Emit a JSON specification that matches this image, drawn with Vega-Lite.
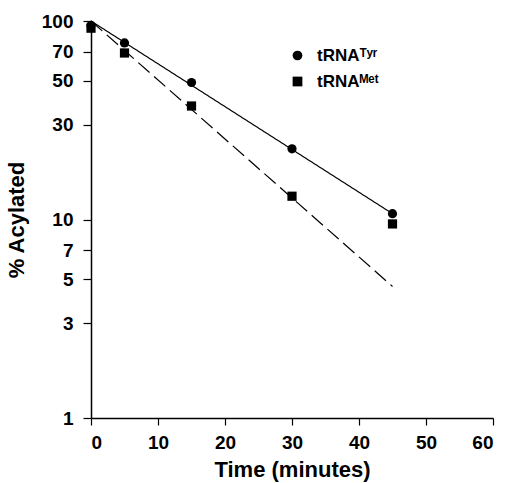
{
  "$schema": "https://vega.github.io/schema/vega-lite/v6.json",
  "width": 402,
  "height": 397,
  "autosize": "none",
  "padding": {"left": 91, "top": 21, "right": 14, "bottom": 65},
  "background": "white",
  "config": {
    "view": {"stroke": null},
    "font": "Liberation Sans",
    "axis": {
      "grid": false,
      "domainColor": "black",
      "domainWidth": 1.5,
      "tickColor": "black",
      "tickWidth": 1.2,
      "labelColor": "black",
      "labelFont": "Liberation Sans",
      "labelFontWeight": "bold",
      "labelFontSize": 19,
      "titleFont": "Liberation Sans",
      "titleFontWeight": "bold",
      "titleFontSize": 22,
      "titleColor": "black"
    }
  },
  "datasets": {
    "points": [
      {"t": 0, "pct": 95, "series": "tRNAᵀʸʳ"},
      {"t": 5, "pct": 77.5, "series": "tRNAᵀʸʳ"},
      {"t": 15, "pct": 49, "series": "tRNAᵀʸʳ"},
      {"t": 30, "pct": 22.7, "series": "tRNAᵀʸʳ"},
      {"t": 45, "pct": 10.7, "series": "tRNAᵀʸʳ"},
      {"t": 0, "pct": 92, "series": "tRNAᴹᵉᵗ"},
      {"t": 5, "pct": 69, "series": "tRNAᴹᵉᵗ"},
      {"t": 15, "pct": 37.3, "series": "tRNAᴹᵉᵗ"},
      {"t": 30, "pct": 13.1, "series": "tRNAᴹᵉᵗ"},
      {"t": 45, "pct": 9.5, "series": "tRNAᴹᵉᵗ"}
    ],
    "fits": [
      {"t": 0, "pct": 100, "fit": "Tyr fit"},
      {"t": 45, "pct": 10.7, "fit": "Tyr fit"},
      {"t": 0, "pct": 100, "fit": "Met fit"},
      {"t": 45, "pct": 4.6, "fit": "Met fit"}
    ]
  },
  "layer": [
    {
      "data": {"name": "fits"},
      "mark": {"type": "line", "color": "black", "strokeWidth": 1.2},
      "encoding": {
        "x": {"field": "t", "type": "quantitative"},
        "y": {"field": "pct", "type": "quantitative"},
        "detail": {"field": "fit"},
        "strokeDash": {
          "field": "fit",
          "type": "nominal",
          "scale": {"domain": ["Tyr fit", "Met fit"], "range": [[1, 0], [15, 6]]},
          "legend": null
        }
      }
    },
    {
      "data": {"name": "points"},
      "mark": {"type": "point", "filled": true, "color": "black", "opacity": 1},
      "encoding": {
        "x": {
          "field": "t",
          "type": "quantitative",
          "scale": {"domain": [0, 60], "nice": false},
          "axis": {
            "title": "Time (minutes)",
            "values": [0, 5, 10, 15, 20, 25, 30, 35, 40, 45, 50, 55, 60],
            "labelExpr": "datum.value % 10 === 0 ? datum.label : ''",
            "tickSize": {"condition": {"test": "datum.value % 10 === 0", "value": 7}, "value": 4},
            "labelPadding": 8,
            "titlePadding": 7
          }
        },
        "y": {
          "field": "pct",
          "type": "quantitative",
          "scale": {"type": "log", "domain": [1, 100], "nice": false},
          "axis": {
            "title": "% Acylated",
            "values": [1, 3, 5, 7, 10, 30, 50, 70, 100],
            "format": "d",
            "tickSize": 8,
            "labelPadding": 10,
            "titlePadding": 13
          }
        },
        "shape": {
          "field": "series",
          "type": "nominal",
          "scale": {"domain": ["tRNAᵀʸʳ", "tRNAᴹᵉᵗ"], "range": ["circle", "square"]},
          "legend": {
            "title": null,
            "orient": "none",
            "legendX": 198,
            "legendY": 26,
            "labelFont": "Liberation Sans",
            "labelFontWeight": "bold",
            "labelFontSize": 17,
            "labelColor": "black",
            "symbolFillColor": "black",
            "symbolStrokeColor": "black",
            "symbolSize": 95,
            "rowPadding": 8,
            "labelOffset": 11
          }
        },
        "size": {"value": 85}
      }
    }
  ]
}
